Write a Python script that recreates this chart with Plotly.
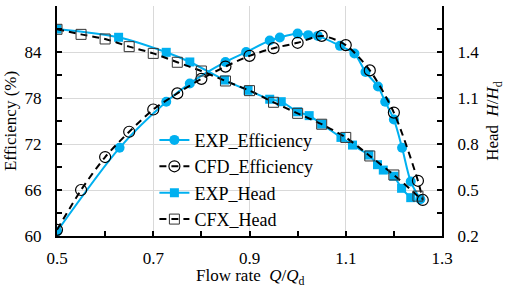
import plotly.graph_objects as go

# ---- data ----
exp_eff_q = [0.5, 0.63, 0.727, 0.776, 0.85, 0.893, 0.942, 0.963, 1.0, 1.022, 1.042,
             1.088, 1.118, 1.141, 1.167, 1.182, 1.2, 1.217, 1.235, 1.255]
exp_eff = [60.6, 71.5, 77.5, 79.9, 82.7, 84.0, 85.5, 85.9, 86.4, 86.2, 86.1,
           84.8, 83.8, 81.4, 79.5, 77.5, 75.2, 71.5, 67.1, 64.8]

cfd_eff_q = [0.5, 0.55, 0.6, 0.65, 0.7, 0.75, 0.8, 0.85, 0.9, 0.95, 1.0, 1.05,
             1.1, 1.15, 1.2, 1.25, 1.26]
cfd_eff = [60.8, 66.0, 70.3, 73.6, 76.5, 78.6, 80.5, 82.1, 83.5, 84.5, 85.2, 86.1,
           84.9, 81.6, 76.1, 67.2, 64.7]

exp_head_q = [0.5, 0.628, 0.727, 0.776, 0.848, 0.897, 0.942, 0.966, 1.0, 1.024, 1.05,
              1.09, 1.114, 1.148, 1.166, 1.178, 1.2, 1.216, 1.235]
exp_head = [1.55, 1.496, 1.398, 1.335, 1.217, 1.15, 1.092, 1.076, 1.01, 0.985, 0.93,
            0.843, 0.793, 0.728, 0.665, 0.63, 0.59, 0.511, 0.45]

cfx_head_q = [0.5, 0.55, 0.6, 0.65, 0.7, 0.75, 0.8, 0.85, 0.9, 0.95, 1.0, 1.05,
              1.1, 1.15, 1.2, 1.25]
cfx_head = [1.548, 1.515, 1.485, 1.435, 1.391, 1.333, 1.276, 1.211, 1.148, 1.072,
            1.0, 0.929, 0.843, 0.722, 0.598, 0.46]

x_ticks = [0.5, 0.7, 0.9, 1.1, 1.3]
eff_ticks = [60, 66, 72, 78, 84, 90]
head_ticks = [0.2, 0.5, 0.8, 1.1, 1.4, 1.7]

x_title = "Flow rate  <i>Q</i>/<i>Q</i><sub>d</sub>"

BLUE = "#00B0F0"
FONT = "Liberation Serif"
TF = dict(family=FONT, size=17, color="black")

fig = go.Figure()

fig.add_trace(go.Scatter(
    x=exp_head_q, y=exp_head, name="EXP_Head", yaxis="y2", legendrank=3,
    mode="lines+markers", line=dict(color=BLUE, width=2, shape="spline", smoothing=0.8),
    marker=dict(symbol="square", size=9, color=BLUE)))
fig.add_trace(go.Scatter(
    x=exp_eff_q, y=exp_eff, name="EXP_Efficiency", legendrank=1,
    mode="lines+markers", line=dict(color=BLUE, width=2, shape="spline", smoothing=0.8),
    marker=dict(symbol="circle", size=10, color=BLUE)))
fig.add_trace(go.Scatter(
    x=cfx_head_q, y=cfx_head, name="CFX_Head", yaxis="y2", legendrank=4,
    mode="lines+markers", line=dict(color="black", width=2, dash="7px,5px", shape="spline", smoothing=0.8),
    marker=dict(symbol="square-open", size=10, color="#333333", line=dict(width=1))))
fig.add_trace(go.Scatter(
    x=cfd_eff_q, y=cfd_eff, name="CFD_Efficiency", legendrank=2,
    mode="lines+markers", line=dict(color="black", width=2, dash="7px,5px", shape="spline", smoothing=0.8),
    marker=dict(symbol="circle-open", size=11, color="black", line=dict(width=1.2))))

fig.update_layout(
    width=505, height=286,
    margin=dict(l=57, r=63, t=6, b=50),
    paper_bgcolor="white", plot_bgcolor="white",
    font=TF,
    showlegend=True,
    legend=dict(x=0.253, y=0.497, xanchor="left", yanchor="top",
                bgcolor="rgba(255,255,255,0)", font=dict(family=FONT, size=18, color="black"),
                traceorder="normal"),
    annotations=[dict(text=x_title, xref="paper", yref="paper", x=0.5, y=-0.121,
                      xanchor="center", yanchor="top", showarrow=False, font=TF)],
    xaxis=dict(range=[0.5, 1.3], tickvals=x_ticks, ticktext=[str(v) for v in x_ticks],
               ticks="inside", ticklen=5, tickwidth=1.5, tickcolor="black",
               minor=dict(dtick=0.1, tick0=0.5, ticks="inside", ticklen=5, tickwidth=1.5,
                          tickcolor="black", showgrid=False),
               showline=True, linecolor="black", linewidth=2, automargin=False,
               showgrid=True, gridcolor="#d9d9d9", gridwidth=1, zeroline=False,
               ticklabelstandoff=6, tickfont=TF),
    yaxis=dict(range=[60, 90], tickvals=eff_ticks, ticks="inside", ticklen=5, tickwidth=1.5,
               tickcolor="black",
               minor=dict(dtick=3, tick0=60, ticks="inside", ticklen=5, tickwidth=1.5,
                          tickcolor="black", showgrid=False),
               showline=True, linecolor="black", linewidth=2, automargin=False,
               showgrid=True, gridcolor="#d9d9d9", gridwidth=1, zeroline=False,
               ticklabelstandoff=10,
               title=dict(text="Efficiency (%)", standoff=4, font=TF), tickfont=TF),
    yaxis2=dict(range=[0.2, 1.7], tickvals=head_ticks, ticktext=[f"{v:.1f}" for v in head_ticks],
                overlaying="y", side="right",
                ticks="inside", ticklen=5, tickwidth=1.5, tickcolor="black",
                minor=dict(dtick=0.15, tick0=0.2, ticks="inside", ticklen=5, tickwidth=1.5,
                           tickcolor="black", showgrid=False),
                showline=True, linecolor="black", linewidth=2, automargin=False,
                showgrid=False, zeroline=False, ticklabelstandoff=10,
                title=dict(text="Head  <i>H</i>/<i>H</i><sub>d</sub>", standoff=10, font=TF),
                tickfont=TF),
)

fig.write_html("out.html", config={"displayModeBar": False},
               post_script="document.body.style.margin='0px';")
